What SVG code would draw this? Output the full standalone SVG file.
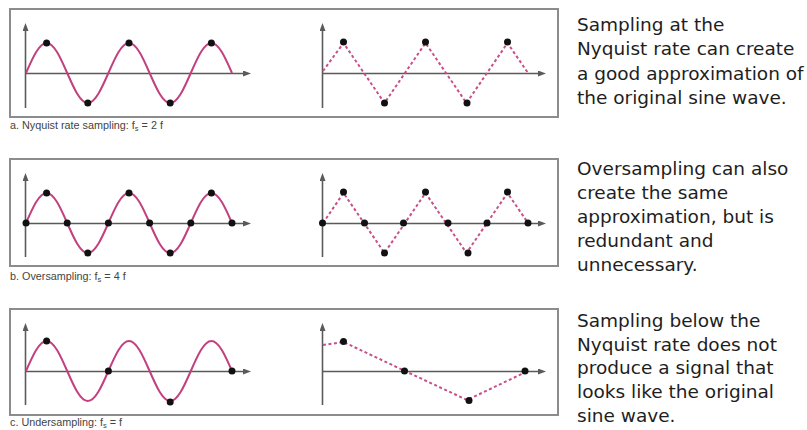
<svg xmlns="http://www.w3.org/2000/svg" xmlns:xlink="http://www.w3.org/1999/xlink" width="807" height="430" viewBox="0 0 807 430">
<style>
.box{fill:#fff;stroke:#8c8c8c;stroke-width:2}
.axis{fill:none;stroke:#5a5a5a;stroke-width:1.6;marker-end:url(#arr)}
.sine{fill:none;stroke:#c2407f;stroke-width:2}
.dash{fill:none;stroke:#c8508a;stroke-width:2;stroke-dasharray:3 2.5}
.dot{fill:#111}
.cap{font-family:"Liberation Sans",Arial,sans-serif;font-size:10.8px;fill:#444}
.note{font-family:"DejaVu Sans",sans-serif;font-size:18.5px;fill:#1e1e1e}
</style>
<defs>
<marker id="arr" markerWidth="8" markerHeight="6" refX="1" refY="3" orient="auto" markerUnits="userSpaceOnUse">
<path d="M0,0 L8,3 L0,6 Z" fill="#5a5a5a"/>
</marker>
<path id="sinewave" d="M0,0 c6.72,-15.37 13.14,-30 20.6,-30 c7.46,0 13.88,14.63 20.6,30 c6.72,15.37 13.14,30 20.6,30 c7.46,0 13.88,-14.63 20.6,-30 c6.72,-15.37 13.14,-30 20.6,-30 c7.46,0 13.88,14.63 20.6,30 c6.72,15.37 13.14,30 20.6,30 c7.46,0 13.88,-14.63 20.6,-30 c6.72,-15.37 13.14,-30 20.6,-30 c7.46,0 13.88,14.63 20.6,30"/>
</defs>
<rect width="807" height="430" fill="#fff"/>

<g id="panel-a">
<rect class="box" x="10" y="9" width="548" height="108"/>
<path class="axis" d="M25.5,108 V30"/>
<path class="axis" d="M25,73.5 H244"/>
<path class="axis" d="M322.5,108 V30"/>
<path class="axis" d="M322,73.5 H539"/>
<use xlink:href="#sinewave" class="sine" transform="translate(26,73)"/>
<g class="dot">
<circle cx="46.6" cy="43" r="3.5"/><circle cx="87.8" cy="103" r="3.5"/><circle cx="129" cy="43" r="3.5"/><circle cx="170.2" cy="103" r="3.5"/><circle cx="211.4" cy="43" r="3.5"/>
</g>
<polyline class="dash" points="323,71 343.5,43 384.5,103 425.5,43 466.5,103 507.5,43 528,73"/>
<g class="dot">
<circle cx="343.5" cy="42" r="3.5"/><circle cx="384.5" cy="103" r="3.5"/><circle cx="425.5" cy="42" r="3.5"/><circle cx="467" cy="103" r="3.5"/><circle cx="507.5" cy="42" r="3.5"/>
</g>
<text class="cap" x="10" y="129">a. Nyquist rate sampling: f<tspan dy="2" font-size="7.5">s</tspan><tspan dy="-2"> = 2 f</tspan></text>
<text class="note" x="577"><tspan x="577" y="31">Sampling at the</tspan><tspan x="577" y="55">Nyquist rate can create</tspan><tspan x="577" y="80">a good approximation of</tspan><tspan x="577" y="104">the original sine wave.</tspan></text>
</g>

<g id="panel-b">
<rect class="box" x="10" y="159" width="548" height="107"/>
<path class="axis" d="M25.5,257 V180"/>
<path class="axis" d="M25,223.5 H244"/>
<path class="axis" d="M322.5,257 V180"/>
<path class="axis" d="M322,223.5 H539"/>
<use xlink:href="#sinewave" class="sine" transform="translate(26,223)"/>
<g class="dot">
<circle cx="26" cy="223" r="3.5"/><circle cx="46.6" cy="193" r="3.5"/><circle cx="67.2" cy="223" r="3.5"/><circle cx="87.8" cy="253" r="3.5"/><circle cx="108.4" cy="223" r="3.5"/><circle cx="129" cy="193" r="3.5"/><circle cx="149.6" cy="223" r="3.5"/><circle cx="170.2" cy="253" r="3.5"/><circle cx="190.8" cy="223" r="3.5"/><circle cx="211.4" cy="193" r="3.5"/><circle cx="232" cy="223" r="3.5"/>
</g>
<polyline class="dash" points="323,223 343.5,193 364,223 384.5,253 405,223 425.5,193 446,223 466.5,253 487,223 507.5,193 528,223"/>
<g class="dot">
<circle cx="322.5" cy="223" r="3.5"/><circle cx="343.5" cy="192" r="3.5"/><circle cx="364.5" cy="223" r="3.5"/><circle cx="384.5" cy="253" r="3.5"/><circle cx="403.5" cy="223" r="3.5"/><circle cx="425.5" cy="192" r="3.5"/><circle cx="448" cy="223" r="3.5"/><circle cx="468" cy="253" r="3.5"/><circle cx="487" cy="223" r="3.5"/><circle cx="507.5" cy="192" r="3.5"/><circle cx="528" cy="223" r="3.5"/>
</g>
<text class="cap" x="10" y="280">b. Oversampling: f<tspan dy="2" font-size="7.5">s</tspan><tspan dy="-2"> = 4 f</tspan></text>
<text class="note" x="577"><tspan x="577" y="175">Oversampling can also</tspan><tspan x="577" y="199">create the same</tspan><tspan x="577" y="223">approximation, but is</tspan><tspan x="577" y="247">redundant and</tspan><tspan x="577" y="271">unnecessary.</tspan></text>
</g>

<g id="panel-c">
<rect class="box" x="10" y="309" width="548" height="106"/>
<path class="axis" d="M25.5,405 V330"/>
<path class="axis" d="M25,371.5 H244"/>
<path class="axis" d="M322.5,405 V330"/>
<path class="axis" d="M322,371.5 H539"/>
<use xlink:href="#sinewave" class="sine" transform="translate(26,371)"/>
<g class="dot">
<circle cx="46.6" cy="341" r="3.5"/><circle cx="108.4" cy="371" r="3.5"/><circle cx="170.2" cy="402" r="3.5"/><circle cx="232" cy="371" r="3.5"/>
</g>
<polyline class="dash" points="323,345 343.5,342 405,371 467,400 528,371"/>
<g class="dot">
<circle cx="343.5" cy="341.5" r="3.5"/><circle cx="404.5" cy="371" r="3.5"/><circle cx="469" cy="400.5" r="3.5"/><circle cx="525" cy="371" r="3.5"/>
</g>
<text class="cap" x="10" y="426">c. Undersampling: f<tspan dy="2" font-size="7.5">s</tspan><tspan dy="-2"> = f</tspan></text>
<text class="note" x="577"><tspan x="577" y="327">Sampling below the</tspan><tspan x="577" y="351">Nyquist rate does not</tspan><tspan x="577" y="374">produce a signal that</tspan><tspan x="577" y="398">looks like the original</tspan><tspan x="577" y="422">sine wave.</tspan></text>
</g>
</svg>
